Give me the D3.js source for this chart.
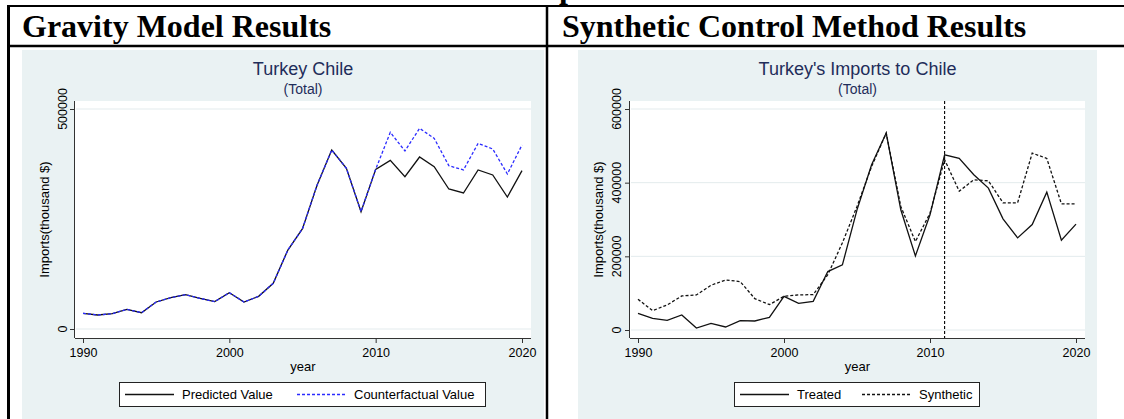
<!DOCTYPE html>
<html>
<head>
<meta charset="utf-8">
<script src="https://cdn.jsdelivr.net/npm/d3@7"></script>
<style>
  body { margin: 0; background: #fff; }
  svg { display: block; }
  text { font-family: 'Liberation Sans', Arial, sans-serif; }
  .hdr { font-family: 'Liberation Serif', 'Times New Roman', serif; font-weight: bold; font-size: 32px; fill: #000; }
</style>
</head>
<body>
<svg></svg>
<script>
// ---- data ----
const years = [1990, 1991, 1992, 1993, 1994, 1995, 1996, 1997, 1998, 1999, 2000,
  2001, 2002, 2003, 2004, 2005, 2006, 2007, 2008, 2009, 2010,
  2011, 2012, 2013, 2014, 2015, 2016, 2017, 2018, 2019, 2020];

// gravity model (thousand $)
const predicted = [35600, 31800, 34800, 44700, 37100, 61400, 71200, 78000, 69700, 62100, 82600,
  61400, 74200, 103800, 179500, 228000, 327300, 406800, 365200, 266700, 362900,
  383300, 346200, 390900, 369000, 318200, 309100, 361400, 350000, 300000, 359900];
const counterfactual = [35600, 31800, 34800, 44700, 37100, 61400, 71200, 78000, 69700, 62100, 82600,
  61400, 74200, 103800, 179500, 228000, 327300, 406800, 365200, 266700, 362900,
  447000, 404600, 456100, 433300, 371200, 361400, 422000, 409100, 352300, 418200];

// synthetic control (thousand $)
const treated = [45300, 31700, 26300, 40800, 5400, 18100, 8200, 25400, 24500, 34400, 91500,
  72500, 77900, 158600, 176900, 326300, 448600, 534700, 326300, 201200, 312700,
  475800, 465800, 421400, 385200, 301800, 250100, 286400, 374300, 243800, 287300];
const synthetic = [83400, 52600, 68000, 92400, 95200, 121400, 135900, 131400, 85200, 68900, 91500,
  95200, 96100, 150000, 236700, 335300, 444000, 534700, 335300, 240200, 317000,
  462200, 377000, 407800, 405100, 345300, 345300, 480300, 465800, 342600, 342600];

const xTicks = [1990, 2000, 2010, 2020];
const leftYTicks = [0, 500000];
const rightYTicks = [0, 200000, 400000, 600000];
const treatYear = 2011;

const svg = d3.select('svg')
  .attr('width', 1124)
  .attr('height', 419);

const bgColor = '#eaf2f3',
  gridColor = '#e3ebed',
  titleColor = '#1f2d5a';

// ---- table frame ----
svg.append('text')
  .attr('class', 'hdr')
  .attr('x', 559)
  .attr('y', -2)
  .text('p');

svg.append('rect')
  .attr('x', 22).attr('y', 50)
  .attr('width', 522).attr('height', 369)
  .attr('fill', bgColor);
svg.append('rect')
  .attr('x', 578).attr('y', 50)
  .attr('width', 519).attr('height', 369)
  .attr('fill', bgColor);

svg.append('line')
  .attr('x1', 7).attr('x2', 1124)
  .attr('y1', 6).attr('y2', 6)
  .attr('stroke', '#000').attr('stroke-width', 2);
svg.append('line')
  .attr('x1', 7).attr('x2', 1124)
  .attr('y1', 46).attr('y2', 46)
  .attr('stroke', '#000').attr('stroke-width', 2.5);
svg.append('line')
  .attr('x1', 8.5).attr('x2', 8.5)
  .attr('y1', 5).attr('y2', 419)
  .attr('stroke', '#000').attr('stroke-width', 3);
svg.append('line')
  .attr('x1', 547).attr('x2', 547)
  .attr('y1', 5).attr('y2', 419)
  .attr('stroke', '#000').attr('stroke-width', 2.5);

svg.append('text')
  .attr('class', 'hdr')
  .attr('x', 22).attr('y', 37)
  .text('Gravity Model Results');
svg.append('text')
  .attr('class', 'hdr')
  .attr('x', 562).attr('y', 37)
  .text('Synthetic Control Method Results');

// ---- one Stata-like panel ----
const drawPanel = cfg => {
  const g = svg.append('g');
  const { left, right, top, bottom } = cfg.plot;

  // white plot region
  g.append('rect')
    .attr('x', left).attr('y', top)
    .attr('width', right - left).attr('height', bottom - top)
    .attr('fill', '#fff');

  const xScale = d3.scaleLinear()
    .domain([1990, 2020])
    .range(cfg.xRange);
  const yScale = d3.scaleLinear()
    .domain([0, cfg.yMax])
    .range(cfg.yRange);

  // grid
  g.selectAll('.grid')
    .data(cfg.yTicks)
    .enter().append('line')
    .attr('x1', left + 1).attr('x2', right)
    .attr('y1', d => yScale(d)).attr('y2', d => yScale(d))
    .attr('stroke', gridColor).attr('stroke-width', 1);

  // axes
  const xAxis = d3.axisBottom(xScale)
    .tickValues(xTicks)
    .tickFormat(d3.format('d'))
    .tickSize(5)
    .tickPadding(5)
    .tickSizeOuter(0);
  const xAxisG = g.append('g')
    .attr('transform', `translate(0, ${bottom})`)
    .call(xAxis);
  xAxisG.select('.domain')
    .attr('d', `M${left},0.5H${right}`)
    .attr('stroke', '#333');
  xAxisG.selectAll('.tick line').attr('stroke', '#333');
  xAxisG.selectAll('.tick text')
    .attr('fill', '#000')
    .attr('font-size', '12.5px')
    .attr('font-family', "'Liberation Sans', Arial, sans-serif");

  const yAxis = d3.axisLeft(yScale)
    .tickValues(cfg.yTicks)
    .tickFormat(d3.format('d'))
    .tickSize(5)
    .tickSizeOuter(0);
  const yAxisG = g.append('g')
    .attr('transform', `translate(${left}, 0)`)
    .call(yAxis);
  yAxisG.select('.domain')
    .attr('d', `M-0.5,${top}V${bottom}`)
    .attr('stroke', '#333');
  yAxisG.selectAll('.tick line').attr('stroke', '#333');
  yAxisG.selectAll('.tick text').remove();
  g.selectAll('.ylab')
    .data(cfg.yTicks)
    .enter().append('text')
    .attr('transform', d => `translate(${cfg.yLabX}, ${yScale(d)}) rotate(-90)`)
    .attr('text-anchor', 'middle')
    .attr('font-size', '12.5px')
    .text(d => d);

  // axis titles
  g.append('text')
    .attr('transform', `translate(${cfg.yTitleX}, ${(top + bottom) / 2}) rotate(-90)`)
    .attr('text-anchor', 'middle')
    .attr('font-size', '13px')
    .text('Imports(thousand $)');
  g.append('text')
    .attr('x', (left + right) / 2).attr('y', 371)
    .attr('text-anchor', 'middle')
    .attr('font-size', '13px')
    .text('year');

  // titles
  g.append('text')
    .attr('x', (left + right) / 2).attr('y', 75)
    .attr('text-anchor', 'middle')
    .attr('font-size', '18px')
    .attr('fill', titleColor)
    .text(cfg.title);
  g.append('text')
    .attr('x', (left + right) / 2).attr('y', 94)
    .attr('text-anchor', 'middle')
    .attr('font-size', '14px')
    .attr('fill', titleColor)
    .text('(Total)');

  if (cfg.vline) {
    g.append('line')
      .attr('x1', xScale(cfg.vline)).attr('x2', xScale(cfg.vline))
      .attr('y1', top).attr('y2', bottom)
      .attr('stroke', '#000').attr('stroke-width', 1.1)
      .attr('stroke-dasharray', '3,2');
  }

  // series
  const lineGenerator = vals => d3.line()
    .x((d, i) => xScale(years[i]))
    .y(d => yScale(d))(vals);

  cfg.series.forEach(s => {
    g.append('path')
      .attr('d', lineGenerator(s.values))
      .attr('fill', 'none')
      .attr('stroke', s.color)
      .attr('stroke-width', 1.3)
      .attr('stroke-linejoin', 'miter')
      .attr('stroke-dasharray', s.dash || null);
  });

  // legend
  const lg = g.append('g');
  lg.append('rect')
    .attr('x', cfg.legend.x + 0.5).attr('y', 382.5)
    .attr('width', cfg.legend.w).attr('height', 24)
    .attr('fill', '#fff')
    .attr('stroke', '#222').attr('stroke-width', 1);
  cfg.series.forEach((s, i) => {
    const e = cfg.legend.items[i];
    lg.append('line')
      .attr('x1', e.x1).attr('x2', e.x1 + 49)
      .attr('y1', 394.5).attr('y2', 394.5)
      .attr('stroke', s.color).attr('stroke-width', 1.3)
      .attr('stroke-dasharray', s.dash || null);
    lg.append('text')
      .attr('x', e.x1 + 57).attr('y', 399)
      .attr('font-size', '13px')
      .text(s.name);
  });
};

drawPanel({
  plot: { left: 75, right: 531, top: 101, bottom: 338 },
  xRange: [83, 522],
  yRange: [329, 109],
  yMax: 500000,
  yTicks: leftYTicks,
  yLabX: 67,
  yTitleX: 49,
  title: 'Turkey Chile',
  series: [
    { name: 'Predicted Value', values: predicted, color: '#111' },
    { name: 'Counterfactual Value', values: counterfactual, color: '#2b2bff', dash: '3,2' }
  ],
  legend: { x: 119, w: 366, items: [{ x1: 125 }, { x1: 297 }] }
});

drawPanel({
  plot: { left: 630, right: 1085, top: 101, bottom: 338 },
  xRange: [638, 1076],
  yRange: [330, 109],
  yMax: 600000,
  yTicks: rightYTicks,
  yLabX: 621,
  yTitleX: 603,
  title: "Turkey's Imports to Chile",
  vline: treatYear,
  series: [
    { name: 'Treated', values: treated, color: '#111' },
    { name: 'Synthetic', values: synthetic, color: '#111', dash: '3,2' }
  ],
  legend: { x: 734, w: 245, items: [{ x1: 740 }, { x1: 862 }] }
});
</script>
</body>
</html>
